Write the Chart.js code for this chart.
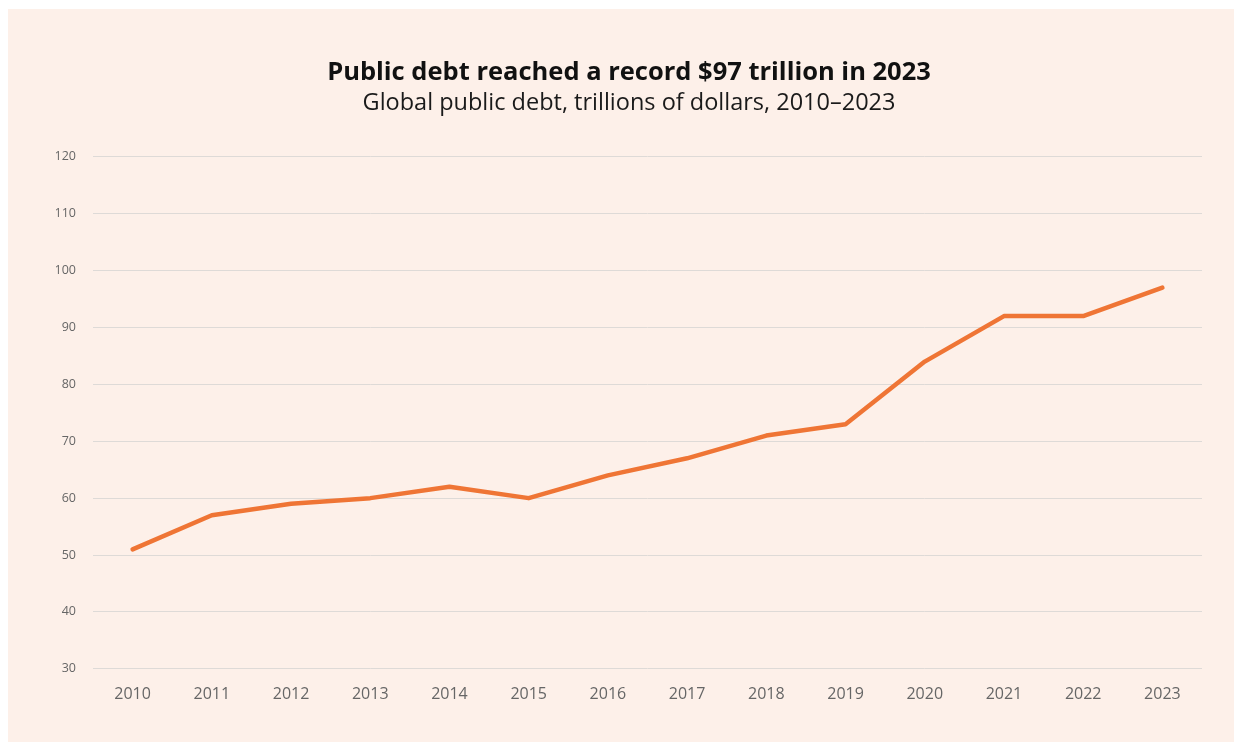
<!DOCTYPE html>
<html>
<head>
<meta charset="utf-8">
<script src="https://cdn.jsdelivr.net/npm/chart.js@4"></script>
<style>
  html, body { margin: 0; padding: 0; background: #ffffff; }
  .panel {
    position: absolute; left: 8px; top: 9px;
    width: 1226px; height: 733px;
    background: #fdf0e9;
  }
</style>
</head>
<body>
<div class="panel"><canvas id="grafico" width="1226" height="733"></canvas></div>
<script>
// anni e debito pubblico globale (trilioni di dollari)
const anni = ['2010', '2011', '2012', '2013', '2014', '2015', '2016',
              '2017', '2018', '2019', '2020', '2021', '2022', '2023'];
const debito = [51, 57, 59, 60, 62, 60, 64, 67, 71, 73, 84, 92, 92, 97];
const tickY = [30, 40, 50, 60, 70, 80, 90, 100, 110, 120];

const font = "'Open Sans', Lato, sans-serif";

const ctx = document.getElementById('grafico').getContext('2d');
new Chart(ctx, {
    type: 'line',
    data: {
        labels: anni,
        datasets: [{
            label: 'Global public debt',
            data: debito,
            borderColor: '#ef7535',
            borderWidth: 4.5,
            borderCapStyle: 'round',
            borderJoinStyle: 'round',
            pointRadius: 0,
            tension: 0,
            fill: false
        }]
    },
    options: {
        responsive: false,
        animation: false,
        layout: {
            padding: { left: 48, right: 32, top: 0, bottom: 22 }
        },
        plugins: {
            legend: { display: false },
            tooltip: { enabled: false },
            title: {
                display: true,
                text: 'Public debt reached a record $97 trillion in 2023',
                color: '#111111',
                font: { size: 25.5, weight: 'bold', family: font },
                padding: { top: 48, bottom: 0 }
            },
            subtitle: {
                display: true,
                text: 'Global public debt, trillions of dollars, 2010–2023',
                color: '#1a1a1a',
                font: { size: 23.5, family: font },
                padding: { top: 2, bottom: 39 }
            }
        },
        scales: {
            x: {
                offset: true,
                grid: { display: false, drawTicks: false },
                border: { display: false },
                ticks: {
                    color: '#666666',
                    padding: 16,
                    font: { size: 16, family: font }
                }
            },
            y: {
                min: 30,
                max: 120,
                afterBuildTicks: axis => {
                    axis.ticks = tickY.map(v => ({ value: v }));
                },
                afterFit: axis => { axis.width = 37; },
                grid: { color: '#dedad7', lineWidth: 1, drawTicks: false },
                border: { display: false },
                ticks: {
                    color: '#666666',
                    padding: 17,
                    font: { size: 12.5, family: font }
                }
            }
        }
    }
});
</script>
</body>
</html>
